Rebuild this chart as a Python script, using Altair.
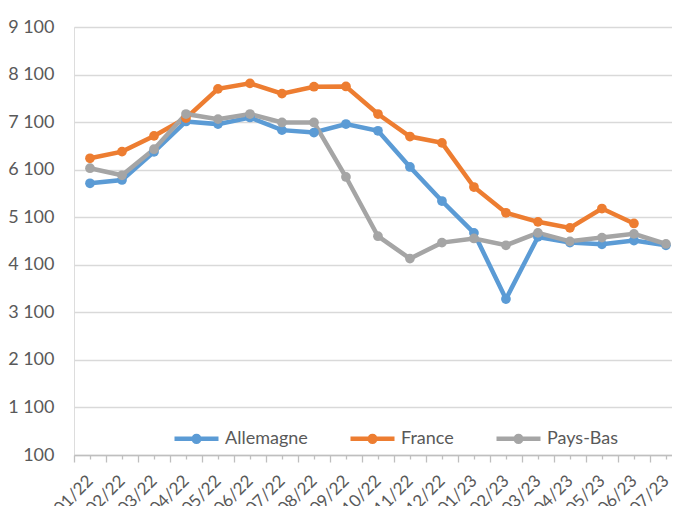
import json
import altair as alt
import pandas as pd

months = ["01/22", "02/22", "03/22", "04/22", "05/22", "06/22", "07/22", "08/22", "09/22",
          "10/22", "11/22", "12/22", "01/23", "02/23", "03/23", "04/23", "05/23", "06/23", "07/23"]
allemagne = [5813, 5883, 6473, 7113, 7058, 7197, 6931, 6881, 7060, 6917, 6157, 5440,
             4770, 3380, 4686, 4566, 4530, 4610, 4510]
france = [6340, 6480, 6810, 7185, 7800, 7915, 7700, 7845, 7850, 7270, 6796, 6663,
          5735, 5193, 5003, 4876, 5283, 4969, None]
pays_bas = [6130, 5982, 6530, 7270, 7163, 7270, 7092, 7092, 5946, 4701, 4230, 4566,
            4653, 4510, 4770, 4593, 4672, 4750, 4537]
series = ["Allemagne", "France", "Pays-Bas"]
colors = ["#5B9BD5", "#ED7D31", "#A5A5A5"]
title_text = "(destinée à la consommation animale)"

rows = []
for name, vals in zip(series, [allemagne, france, pays_bas]):
    for i, v in enumerate(vals):
        if v is not None:
            rows.append({"idx": i, "mois": months[i], "pays": name, "valeur": v})
df = pd.DataFrame(rows)

FONT = "Lato"
GREY_TXT = "#595959"

label_expr = "datum.value % 1 == 0 ? " + json.dumps(months) + "[datum.value] : ''"
tick_vals = [i / 2 for i in range(-1, 37)]

x = alt.X(
    "idx:Q",
    scale=alt.Scale(domain=[-0.5, 18.19], nice=False, zero=False),
    axis=alt.Axis(
        values=tick_vals, labelExpr=label_expr, labelAngle=-45, labelAlign="right",
        labelBaseline="middle", labelPadding=19, labelFont=FONT, labelFontSize=17,
        labelColor=GREY_TXT, labelOverlap=False, labelFlush=False, labelBound=False,
        tickSize={"condition": {"test": "datum.value % 1 == 0", "value": 4}, "value": 7},
        tickColor="#BFBFBF", tickWidth=1.3, domainColor="#BFBFBF", domainWidth=1.3,
        grid=False, title=None,
    ),
)
y = alt.Y(
    "valeur:Q",
    scale=alt.Scale(domain=[100, 9100], nice=False, zero=False),
    axis=alt.Axis(
        values=list(range(100, 9101, 1000)),
        labelExpr="replace(format(datum.value, ','), ',', ' ')",
        domain=False, ticks=False, labelPadding=20, labelFont=FONT, labelFontSize=18,
        labelColor=GREY_TXT, gridColor="#D9D9D9", gridWidth=1.3, title=None,
    ),
)

legend_path = "M-1,0H1M0.13,0A0.13,0.13 0 1 1 -0.13,0A0.13,0.13 0 1 1 0.13,0"
color = alt.Color(
    "pays:N",
    scale=alt.Scale(domain=series, range=colors),
    legend=alt.Legend(
        orient="none", legendX=98, legendY=387, direction="horizontal", title=None,
        symbolType=legend_path, symbolSize=1936, symbolStrokeWidth=4.5,
        labelFont=FONT, labelFontSize=18, labelColor=GREY_TXT, labelOffset=4,
        columnPadding=33,
    ),
)

chart = (
    alt.Chart(df)
    .mark_line(strokeWidth=4.5, point=alt.OverlayMarkDef(filled=True, size=95))
    .encode(x=x, y=y, color=color, detail="pays:N")
    .properties(
        width=598, height=428,
        autosize=alt.AutoSizeParams(type="none"),
        padding={"left": 66, "top": 19, "right": 0, "bottom": 51},
        title=alt.TitleParams(
            title_text, font=FONT, fontSize=22, fontWeight="bold", color="#000000",
            anchor="middle", baseline="alphabetic", offset=16, dx=11,
        ),
    )
    .configure_view(stroke=None)
    .configure(background="white")
)

chart.save("out.html", embed_options={"renderer": "svg", "actions": False})
